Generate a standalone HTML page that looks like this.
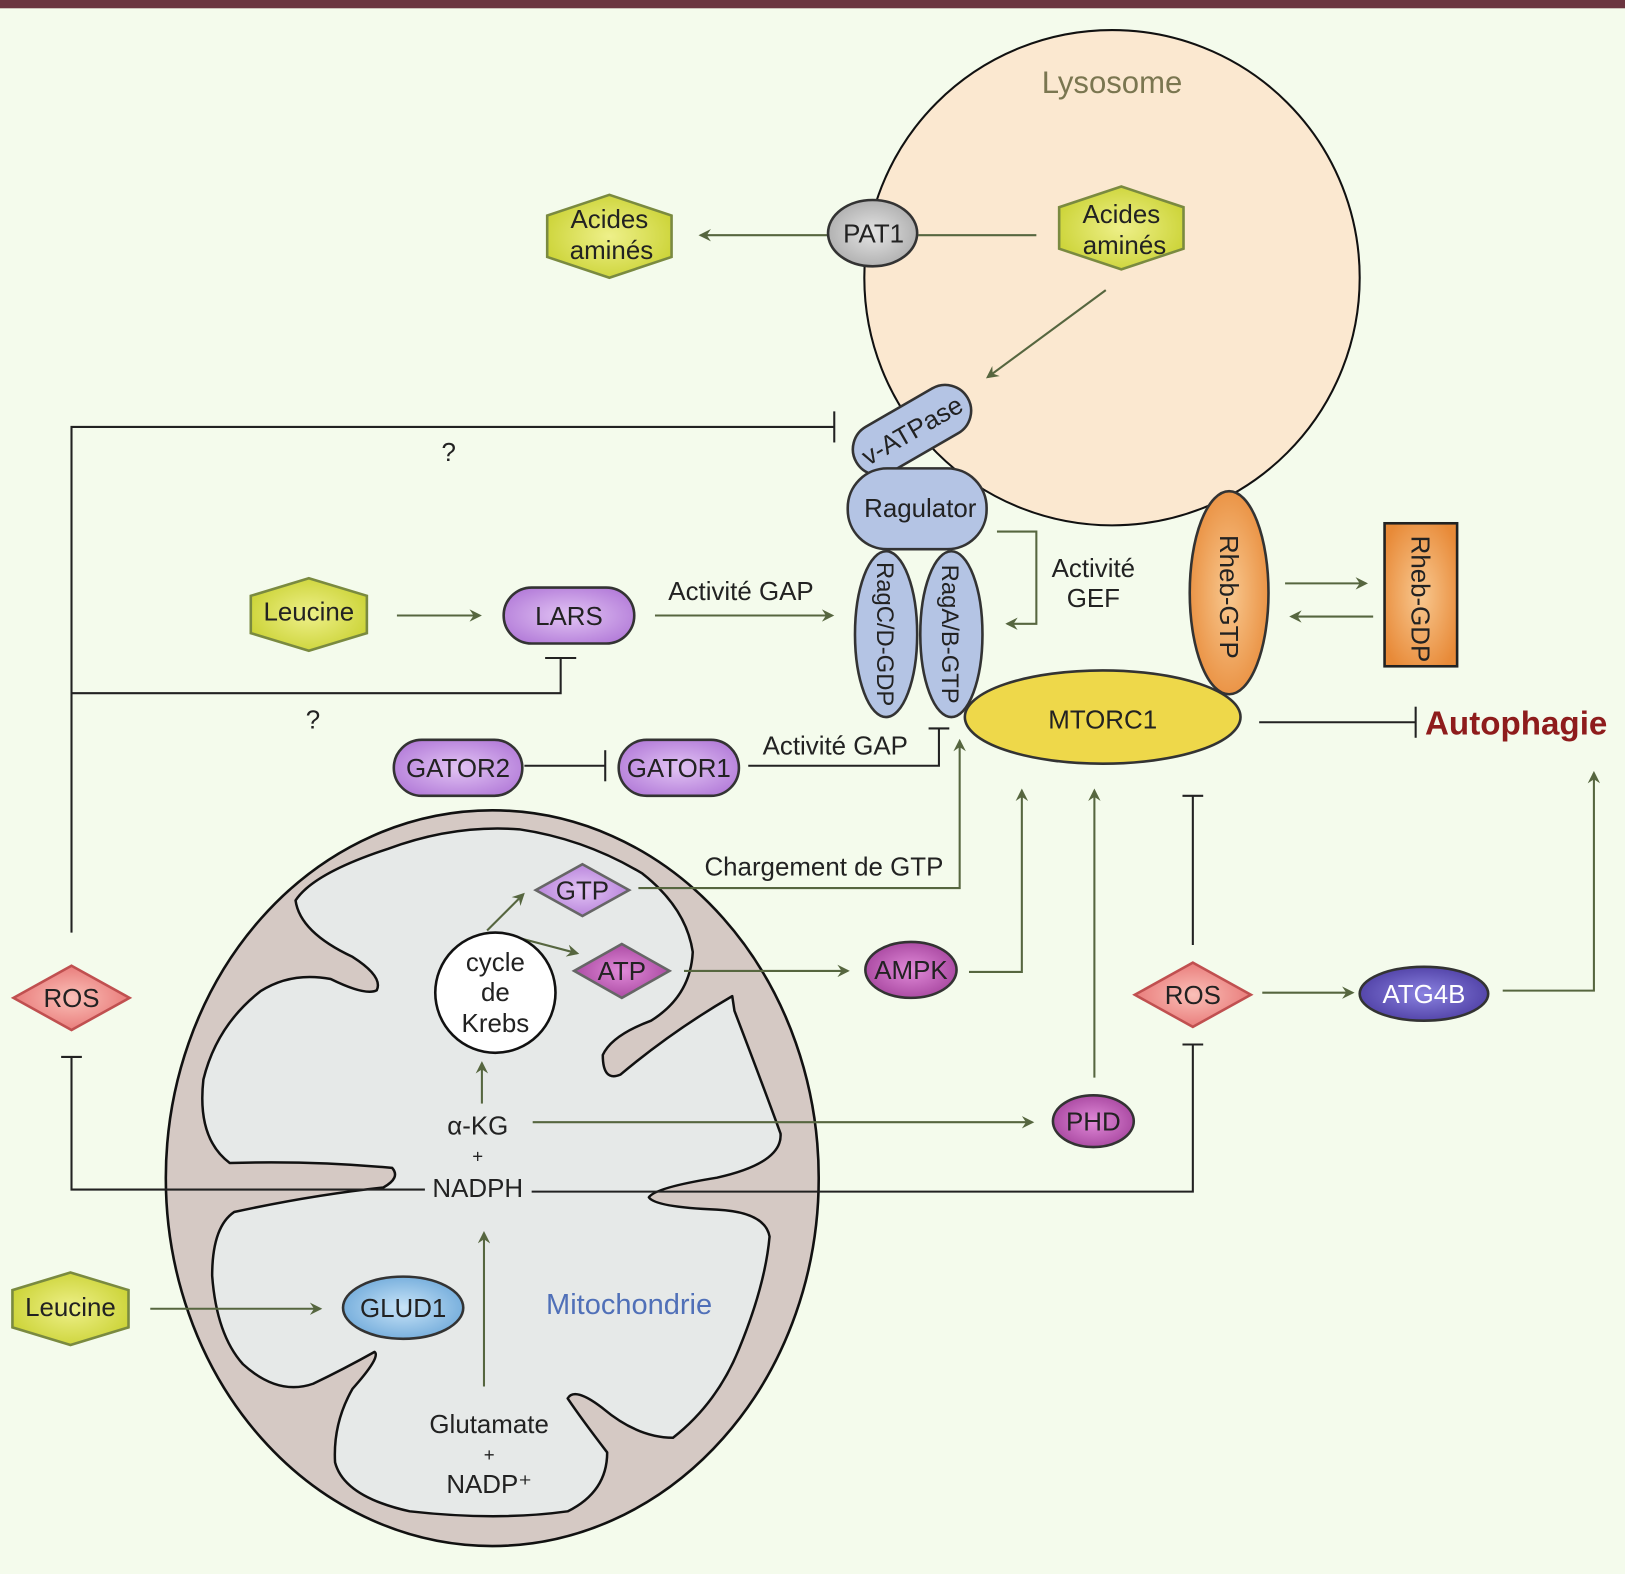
<!DOCTYPE html>
<html><head><meta charset="utf-8"><style>
html,body{margin:0;padding:0;background:#f4fbec;}
svg{display:block;}
text{font-family:"Liberation Sans Narrow","Liberation Sans",sans-serif;fill:#222;}
</style></head><body>
<svg width="1625" height="1574" viewBox="0 0 1568 1519" preserveAspectRatio="none" xmlns="http://www.w3.org/2000/svg">
<defs>
<marker id="ar" markerWidth="12" markerHeight="12" refX="10" refY="6" orient="auto" markerUnits="userSpaceOnUse">
<path d="M0,0 L12,6 L0,12 L4,6 Z" fill="#56663f"/></marker>
<radialGradient id="gy" cx="50%" cy="50%" r="60%"><stop offset="0" stop-color="#eef08a"/><stop offset="1" stop-color="#c9d130"/></radialGradient>
<radialGradient id="gp" cx="50%" cy="50%" r="60%"><stop offset="0" stop-color="#e2c4f4"/><stop offset="1" stop-color="#b27ad8"/></radialGradient>
<radialGradient id="gm" cx="50%" cy="50%" r="60%"><stop offset="0" stop-color="#e08ad8"/><stop offset="1" stop-color="#a2409a"/></radialGradient>
<radialGradient id="gr" cx="50%" cy="50%" r="60%"><stop offset="0" stop-color="#fac0b8"/><stop offset="1" stop-color="#e67070"/></radialGradient>
<radialGradient id="gb" cx="50%" cy="50%" r="60%"><stop offset="0" stop-color="#c8e4f8"/><stop offset="1" stop-color="#6aa6d8"/></radialGradient>
<radialGradient id="go" cx="50%" cy="50%" r="60%"><stop offset="0" stop-color="#f8c890"/><stop offset="1" stop-color="#e88a38"/></radialGradient>
<radialGradient id="gd" cx="50%" cy="50%" r="60%"><stop offset="0" stop-color="#8a82e0"/><stop offset="1" stop-color="#4a3aa0"/></radialGradient>
<radialGradient id="gg" cx="50%" cy="50%" r="60%"><stop offset="0" stop-color="#e4e4e4"/><stop offset="1" stop-color="#a8a8a8"/></radialGradient>
</defs>
<rect x="0" y="0" width="1568" height="1519" fill="#f4fbec"/>
<rect x="0" y="0" width="1568" height="8" fill="#6b3540"/>

<circle cx="1073" cy="268" r="239" fill="#fbe8d0" stroke="#111" stroke-width="2"/>
<text x="1073" y="90" font-size="30" text-anchor="middle" style="fill:#7a7650">Lysosome</text>

<ellipse cx="475" cy="1137" rx="315" ry="355" fill="#d5c9c4" stroke="#111" stroke-width="2.5"/>
<g transform="translate(141.2,767.2) scale(0.4235,0.4735)">
<path vector-effect="non-scaling-stroke" fill="#e6e9e8" stroke="#111" stroke-width="2.5" stroke-linejoin="round"
d="M340,215 Q350,280 470,330 Q540,370 525,398 Q500,410 420,375 Q330,360 260,400 Q160,470 130,580 Q115,700 190,750 Q380,745 560,760 Q580,780 540,800 Q380,815 200,850 Q150,880 150,980 Q160,1100 220,1160 Q300,1225 380,1200 Q450,1170 520,1135 Q535,1145 470,1210 Q425,1280 430,1360 Q450,1430 600,1460 Q800,1480 960,1460 Q1050,1420 1050,1340 Q990,1270 960,1230 Q975,1205 1040,1250 Q1120,1310 1200,1310 Q1300,1240 1350,1130 Q1410,1000 1420,900 Q1410,850 1300,845 Q1160,840 1145,820 Q1160,800 1300,780 Q1450,750 1445,690 Q1400,580 1340,440 L1335,410 Q1200,480 1080,570 Q1040,585 1040,530 Q1060,490 1150,460 Q1240,410 1245,320 Q1230,230 1130,160 Q1000,90 850,70 Q700,60 550,110 Q380,160 340,215 Z"/>
</g>
<text x="607" y="1268" font-size="28" text-anchor="middle" style="fill:#5070b8">Mitochondrie</text>

<g fill="none" stroke="#56663f" stroke-width="2">
<line x1="800" y1="227" x2="676" y2="227" marker-end="url(#ar)"/>
<line x1="886" y1="227" x2="1000" y2="227"/>
<line x1="1067" y1="280" x2="953" y2="364" marker-end="url(#ar)"/>
<line x1="383" y1="594" x2="463" y2="594" marker-end="url(#ar)"/>
<line x1="632" y1="594" x2="803" y2="594" marker-end="url(#ar)"/>
<polyline points="962,513 1000,513 1000,602 972,602" marker-end="url(#ar)"/>
<line x1="1240" y1="563" x2="1318" y2="563" marker-end="url(#ar)"/>
<line x1="1325" y1="595" x2="1246" y2="595" marker-end="url(#ar)"/>
<polyline points="616,857 926,857 926,715" marker-end="url(#ar)"/>
<line x1="470" y1="898" x2="505" y2="863" marker-end="url(#ar)"/>
<line x1="500" y1="905" x2="557" y2="920" marker-end="url(#ar)"/>
<line x1="660" y1="937" x2="818" y2="937" marker-end="url(#ar)"/>
<polyline points="935,938 986,938 986,763" marker-end="url(#ar)"/>
<line x1="465" y1="1065" x2="465" y2="1026" marker-end="url(#ar)"/>
<line x1="514" y1="1083" x2="996" y2="1083" marker-end="url(#ar)"/>
<line x1="1056" y1="1040" x2="1056" y2="763" marker-end="url(#ar)"/>
<line x1="1218" y1="958" x2="1305" y2="958" marker-end="url(#ar)"/>
<polyline points="1450,956 1538,956 1538,746" marker-end="url(#ar)"/>
<line x1="145" y1="1263" x2="309" y2="1263" marker-end="url(#ar)"/>
<line x1="467" y1="1338" x2="467" y2="1190" marker-end="url(#ar)"/>
</g>
<g fill="none" stroke="#222" stroke-width="2">
<polyline points="69,900 69,412 805,412"/><line x1="805" y1="397" x2="805" y2="427"/>
<polyline points="69,669 541,669 541,635"/><line x1="526" y1="635" x2="556" y2="635"/>
<line x1="506" y1="739" x2="584" y2="739"/><line x1="584" y1="724" x2="584" y2="754"/>
<polyline points="722,739 906,739 906,703"/><line x1="896" y1="703" x2="916" y2="703"/>
<line x1="1215" y1="697" x2="1366" y2="697"/><line x1="1366" y1="682" x2="1366" y2="712"/>
<polyline points="410,1148 69,1148 69,1020"/><line x1="59" y1="1020" x2="79" y2="1020"/>
<polyline points="513,1150 1151,1150 1151,1008"/><line x1="1141" y1="1008" x2="1161" y2="1008"/>
<line x1="1151" y1="912" x2="1151" y2="768"/><line x1="1141" y1="768" x2="1161" y2="768"/>
</g>

<g stroke="#333" stroke-width="2.5">
<polygon points="588,188 648,208 648,248 588,268 528,248 528,208" fill="url(#gy)" stroke="#7a8a40"/>
<polygon points="1082,180 1142,200 1142,240 1082,260 1022,240 1022,200" fill="url(#gy)" stroke="#7a8a40"/>
<ellipse cx="842" cy="225" rx="43" ry="32" fill="url(#gg)"/>
<rect x="818" y="390" width="124" height="50" rx="25" fill="#b4c4e4" transform="rotate(-30 880 415)"/>
<rect x="818" y="452" width="134" height="78" rx="38" fill="#b4c4e4"/>
<ellipse cx="855" cy="612" rx="30" ry="80" fill="#b4c4e4"/>
<ellipse cx="918" cy="612" rx="30" ry="80" fill="#b4c4e4"/>
<ellipse cx="1064" cy="692" rx="133" ry="45" fill="#eed84a"/>
<ellipse cx="1186" cy="572" rx="38" ry="98" fill="url(#go)"/>
<rect x="1336" y="505" width="70" height="138" fill="url(#go)" stroke="#222"/>
<polygon points="298,558 354,575 354,611 298,628 242,611 242,575" fill="url(#gy)" stroke="#7a8a40"/>
<rect x="486" y="567" width="126" height="54" rx="27" fill="url(#gp)"/>
<rect x="380" y="714" width="124" height="54" rx="27" fill="url(#gp)"/>
<rect x="597" y="714" width="116" height="54" rx="27" fill="url(#gp)"/>
<polygon points="562,834 607,859 562,884 517,859" fill="url(#gp)" stroke="#666"/>
<polygon points="600,911 646,937 600,963 554,937" fill="url(#gm)" stroke="#666"/>
<circle cx="478" cy="958" r="58" fill="#fff" stroke="#111"/>
<ellipse cx="879" cy="936" rx="44" ry="27" fill="url(#gm)"/>
<ellipse cx="1055" cy="1082" rx="39" ry="25" fill="url(#gm)"/>
<polygon points="69,932 125,963 69,994 13,963" fill="url(#gr)" stroke="#c05050"/>
<polygon points="1151,929 1207,960 1151,991 1095,960" fill="url(#gr)" stroke="#c05050"/>
<ellipse cx="1374" cy="959" rx="62" ry="26" fill="url(#gd)"/>
<polygon points="68,1228 124,1245 124,1281 68,1298 12,1281 12,1245" fill="url(#gy)" stroke="#7a8a40"/>
<ellipse cx="389" cy="1262" rx="58" ry="30" fill="url(#gb)"/>
</g>

<g font-size="25" text-anchor="middle">
<text x="588" y="220">Acides</text><text x="590" y="250">aminés</text>
<text x="1082" y="215">Acides</text><text x="1085" y="245">aminés</text>
<text x="843" y="234">PAT1</text>
<text x="880" y="424" transform="rotate(-30 880 415)">v-ATPase</text>
<text x="888" y="499">Ragulator</text>
<text x="0" y="0" font-size="23" transform="translate(846,612) rotate(90)">RagC/D-GDP</text>
<text x="0" y="0" font-size="23" transform="translate(909,612) rotate(90)">RagA/B-GTP</text>
<text x="1064" y="703">MTORC1</text>
<text x="0" y="0" transform="translate(1177,576) rotate(90)">Rheb-GTP</text>
<text x="0" y="0" transform="translate(1362,578) rotate(90)">Rheb-GDP</text>
<text x="298" y="599">Leucine</text>
<text x="549" y="603">LARS</text>
<text x="442" y="750">GATOR2</text>
<text x="655" y="750">GATOR1</text>
<text x="562" y="868">GTP</text>
<text x="600" y="946">ATP</text>
<text x="478" y="937">cycle</text><text x="478" y="966">de</text><text x="478" y="996">Krebs</text>
<text x="879" y="945">AMPK</text>
<text x="1055" y="1091">PHD</text>
<text x="69" y="972">ROS</text>
<text x="1151" y="969">ROS</text>
<text x="1374" y="968" style="fill:#fff">ATG4B</text>
<text x="68" y="1270">Leucine</text>
<text x="389" y="1271">GLUD1</text>
<text x="461" y="1095">α-KG</text>
<text x="461" y="1122" font-size="18">+</text>
<text x="461" y="1155">NADPH</text>
<text x="472" y="1383">Glutamate</text>
<text x="472" y="1410" font-size="18">+</text>
<text x="472" y="1441">NADP⁺</text>
<text x="715" y="579">Activité GAP</text>
<text x="806" y="728">Activité GAP</text>
<text x="1055" y="557">Activité</text><text x="1055" y="586">GEF</text>
<text x="795" y="845">Chargement de GTP</text>
<text x="433" y="445">?</text>
<text x="302" y="703">?</text>
</g>
<text x="1463" y="709" font-size="32" font-weight="bold" text-anchor="middle" style="fill:#8e1c1c;font-family:'Liberation Sans',sans-serif">Autophagie</text>
</svg>
</body></html>
